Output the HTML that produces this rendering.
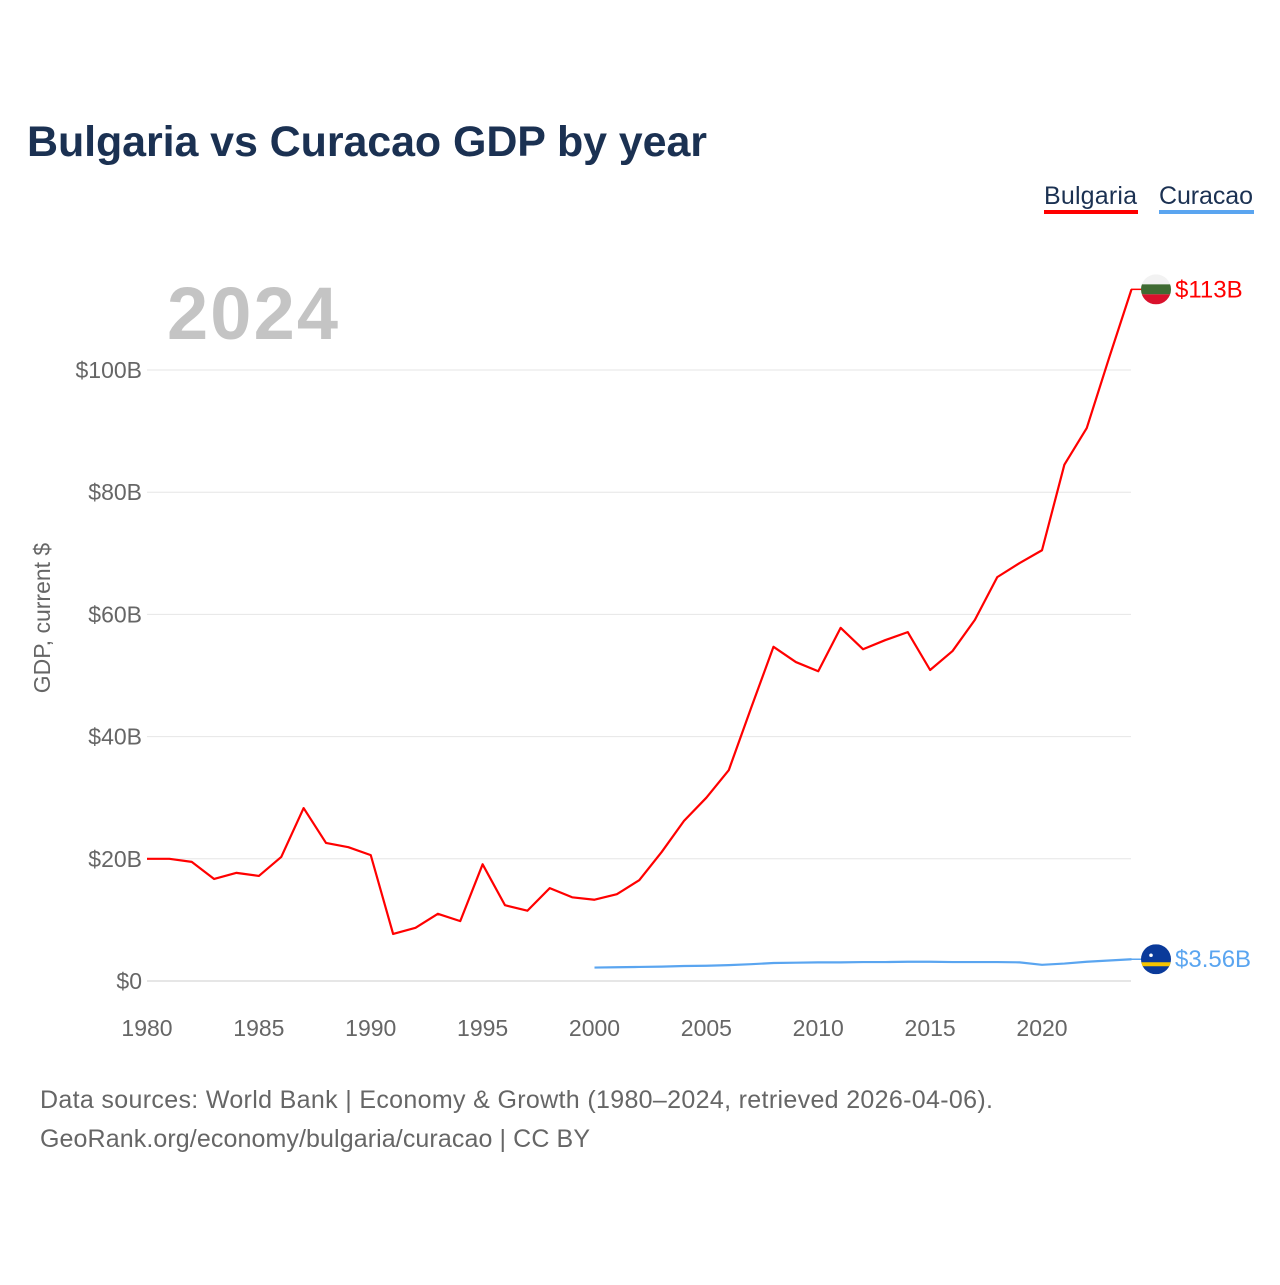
<!DOCTYPE html>
<html><head><meta charset="utf-8"><style>
body{margin:0;background:#fff;font-family:"Liberation Sans",sans-serif}
</style></head><body>
<svg width="1280" height="1280" viewBox="0 0 1280 1280" xmlns="http://www.w3.org/2000/svg" id="chart">
<rect width="1280" height="1280" fill="#fff"/>
<text x="27" y="156" font-size="43" font-weight="bold" fill="#1b3152" textLength="680">Bulgaria vs Curacao GDP by year</text>
<g><text x="1044" y="204" font-size="25" fill="#1b3152" textLength="93">Bulgaria</text><rect x="1044" y="210" width="94" height="4" fill="#ff0000"/></g>
<g><text x="1159" y="204" font-size="25" fill="#1b3152" textLength="94">Curacao</text><rect x="1159" y="210" width="95" height="4" fill="#5aa5f0"/></g>
<text x="167" y="339" font-size="74" font-weight="bold" fill="#c4c4c4" textLength="171">2024</text>
<text transform="translate(50,618) rotate(-90)" text-anchor="middle" font-size="23" fill="#666">GDP, current $</text>
<g id="grid"></g><g id="xt"></g><g id="lines"></g>
<text x="40" y="1108" font-size="25" fill="#666" textLength="953">Data sources: World Bank | Economy &amp; Growth (1980–2024, retrieved 2026-04-06).</text>
<text x="40" y="1147" font-size="25" fill="#666" textLength="550">GeoRank.org/economy/bulgaria/curacao | CC BY</text>
</svg>
<script>
const yTicks=[0,20,40,60,80,100];
const yTickLabels=["$0","$20B","$40B","$60B","$80B","$100B"];
const xTicks=[1980,1985,1990,1995,2000,2005,2010,2015,2020];
const bgYears=[];for(let y=1980;y<=2024;y++)bgYears.push(y);
const bulgaria=[20.0,20.0,19.5,16.7,17.7,17.2,20.3,28.3,22.6,21.9,20.6,7.7,8.7,11.0,9.8,19.1,12.4,11.5,15.2,13.7,13.3,14.2,16.5,21.1,26.2,30.0,34.5,44.7,54.7,52.2,50.7,57.8,54.3,55.8,57.1,50.9,54.0,59.1,66.1,68.4,70.5,84.5,90.5,102.0,113.2];
const cwYears=[];for(let y=2000;y<=2024;y++)cwYears.push(y);
const curacao=[2.2,2.25,2.3,2.35,2.45,2.5,2.6,2.75,2.95,3.0,3.05,3.05,3.1,3.1,3.15,3.15,3.1,3.1,3.1,3.05,2.65,2.85,3.15,3.35,3.56];
const NS="http://www.w3.org/2000/svg";
const X=y=>147+(y-1980)*22.375, Y=v=>981-v*6.11;
function el(t,a,p){const e=document.createElementNS(NS,t);for(const k in a)e.setAttribute(k,a[k]);p.appendChild(e);return e;}
const g=document.getElementById('grid');
yTicks.forEach((v,i)=>{
 const l=el('line',{x1:147,x2:1131,y1:Y(v),y2:Y(v),stroke:v==0?'#ccc':'#e6e6e6','stroke-width':1},g);
 
 
 const t=el('text',{x:142,y:Y(v)+8,'text-anchor':'end','font-size':23,fill:'#666'},g);t.textContent=yTickLabels[i];
 
 
});
const xt=document.getElementById('xt');
xTicks.forEach(v=>{const t=el('text',{x:X(v),y:1036,'text-anchor':'middle','font-size':23,fill:'#666'},xt);t.textContent=v;
 
 });
const L=document.getElementById('lines');
function line(ys,vs,c,name){const p=el('polyline',{points:ys.map((y,i)=>X(y)+','+Y(vs[i])).join(' '),fill:'none',stroke:c,'stroke-width':2.2,'stroke-linejoin':'round'},L);
 
 }
line(bgYears,bulgaria,'#ff0000','bulgaria-line');
line(cwYears,curacao,'#5aa5f0','curacao-line');
const by=Y(bulgaria[bulgaria.length-1]), cy=Y(curacao[curacao.length-1]);
el('line',{x1:1131,x2:1142,y1:by,y2:by,stroke:'#ff0000','stroke-width':1.5},L);
el('line',{x1:1131,x2:1142,y1:cy,y2:cy,stroke:'#5aa5f0','stroke-width':1.5},L);
const d=el('defs',{},L);
const c1=el('clipPath',{id:'cb'},d);el('circle',{cx:1156,cy:by,r:15},c1);
const c2=el('clipPath',{id:'cc'},d);el('circle',{cx:1156,cy:cy,r:15},c2);
const fb=el('g',{'clip-path':'url(#cb)'},L);


el('rect',{x:1141,y:by-15,width:30,height:10,fill:'#f2f2f2'},fb);
el('rect',{x:1141,y:by-5,width:30,height:10,fill:'#3f6b33'},fb);
el('rect',{x:1141,y:by+5,width:30,height:10,fill:'#d9112c'},fb);
const fc=el('g',{'clip-path':'url(#cc)'},L);


el('rect',{x:1141,y:cy-15,width:30,height:30,fill:'#0a3a9a'},fc);
el('rect',{x:1141,y:cy+3,width:30,height:4,fill:'#f5c400'},fc);
el('circle',{cx:1151,cy:cy-4,r:1.8,fill:'#fff'},fc);
const tb=el('text',{x:1175,y:by+8,'font-size':24,fill:'#ff0000'},L);tb.textContent='$113B';


const tc=el('text',{x:1175,y:cy+8,'font-size':24,fill:'#5aa5f0'},L);tc.textContent='$3.56B';


</script>
</body></html>
